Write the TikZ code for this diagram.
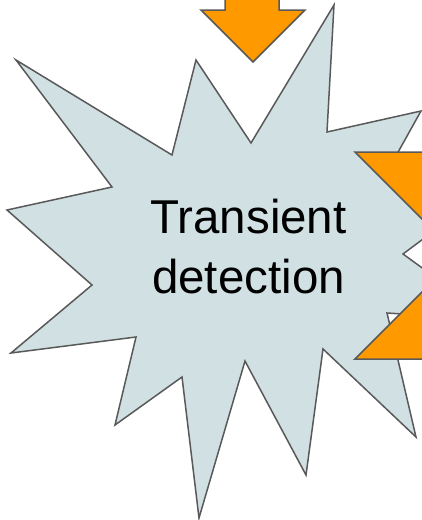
\documentclass[tikz,border=0pt]{standalone}
\usepackage{fontspec}
\setmainfont{Liberation Sans}
\definecolor{burstfill}{HTML}{D0E0E3}
\definecolor{orangefill}{HTML}{FF9900}
\definecolor{edgegray}{HTML}{595959}
\begin{document}
\begin{tikzpicture}[x=1pt,y=-1pt,
  burst/.style={fill=burstfill,draw=edgegray,line width=1.5pt,line join=miter},
  orangeshape/.style={fill=orangefill,draw=edgegray,line width=1.5pt,line join=miter},
  label/.style={font=\fontsize{47.5}{60}\selectfont,text=black,inner sep=0pt,anchor=base}]
\useasboundingbox (0,0) rectangle (422,520);
\clip (0,0) rectangle (422,520);
% starburst
\draw[burst] (16,60) -- (172,155) -- (196,60) -- (251,143) -- (334,5) -- (327,132)
  -- (421,111) -- (392,163) -- (470,204) -- (403,254) -- (494,320) -- (387,313)
  -- (416,437) -- (323,349) -- (306,475) -- (245,361) -- (199,518) -- (182,377)
  -- (115,425) -- (136,337) -- (11,353) -- (92,285) -- (7,210) -- (112,187) -- cycle;
% top arrow
\draw[orangeshape] (225,-20) -- (225,10) -- (201,10) -- (253,62) -- (305,10) -- (279,10) -- (279,-20) -- cycle;
% right chevron
\draw[orangeshape] (355,152) -- (520,152) -- (520,359) -- (355,359) -- (458.5,255.5) -- cycle;
% text
\node[label] (t1) at (248.5,233) {Transient};
\node[label] (t2) at (248.5,293) {detection};
\end{tikzpicture}
\end{document}
